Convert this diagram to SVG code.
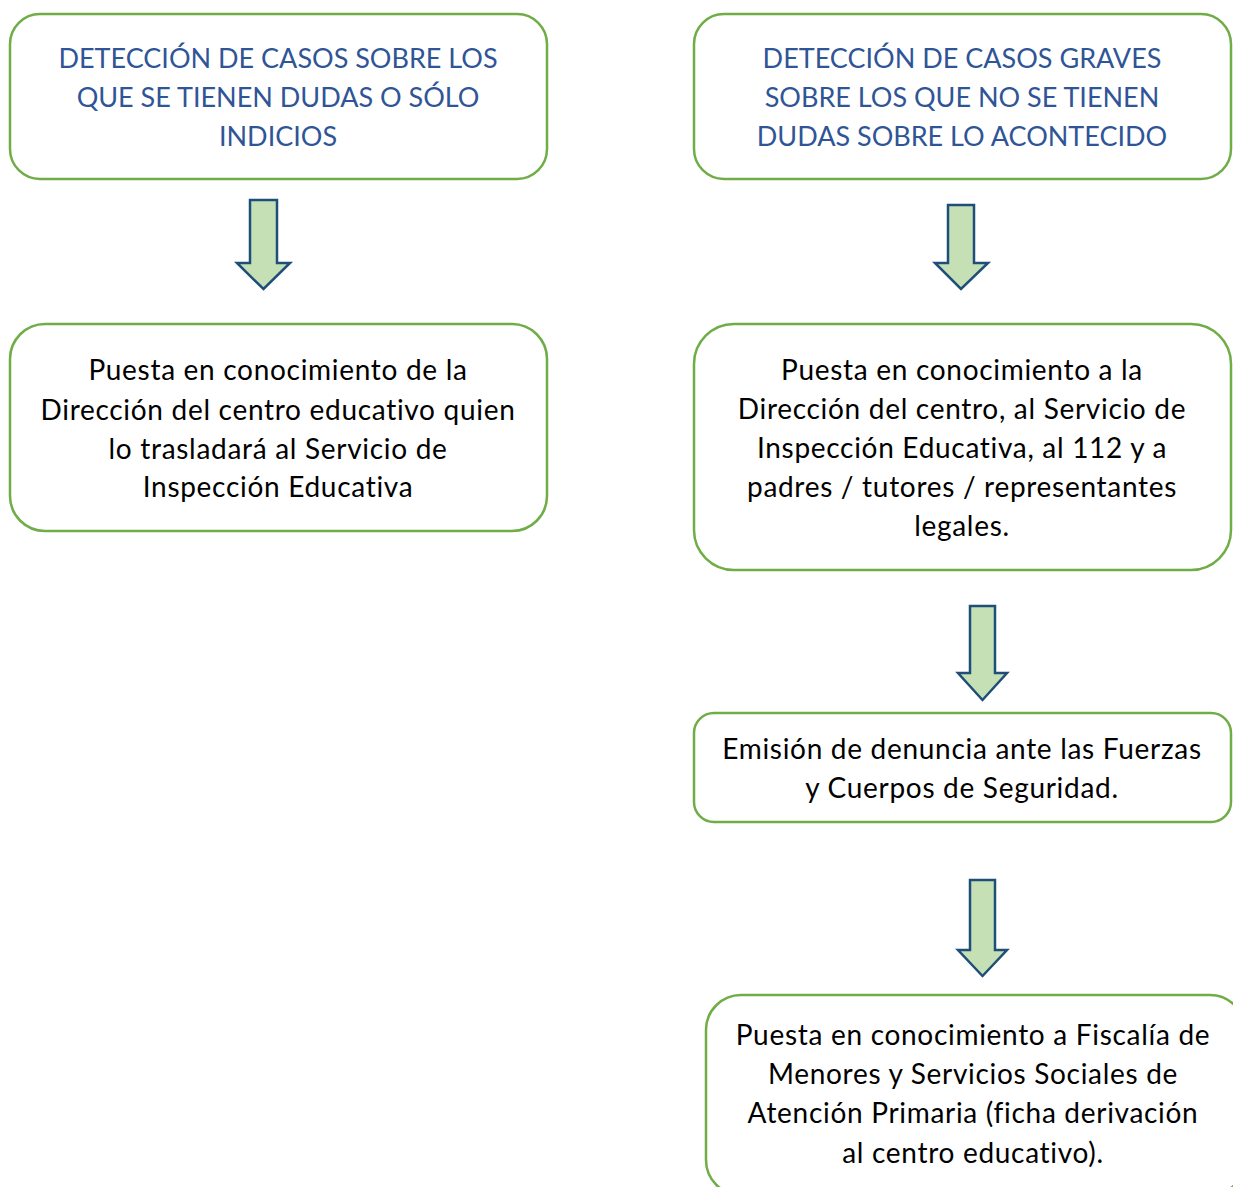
<svg xmlns="http://www.w3.org/2000/svg" width="1233" height="1187" viewBox="0 0 1233 1187">
<style>
.box{fill:#fff;stroke:#70AD47;stroke-width:2.5}
.arr{fill:#C5E0B4;stroke:#1F4E79;stroke-width:2.5;stroke-linejoin:miter}
text{font-family:Lato,"Open Sans",sans-serif;text-anchor:middle}
.h{fill:#2F5597;font-size:27px}
.b{fill:#000;font-size:28px;letter-spacing:0.7px}
</style>
<rect width="1233" height="1187" fill="#fff"/>
<g id="connectors">
<path class="arr" d="M250,200 H277 V263 H290 L263.5,289 L237,263 H250 Z"/>
<path class="arr" d="M948,205 H974 V263 H988 L961,289 L935,263 H948 Z"/>
<path class="arr" d="M970,606 H995 V673 H1007 L982.5,700 L958,673 H970 Z"/>
<path class="arr" d="M970,880 H995 V950 H1007 L982.5,976 L958,950 H970 Z"/>
</g>
<g id="n1">
<rect class="box" x="10" y="14" width="537" height="165" rx="30"/>
<text class="h" x="278" y="68">DETECCIÓN DE CASOS SOBRE LOS</text>
<text class="h" x="278" y="107">QUE SE TIENEN DUDAS O SÓLO</text>
<text class="h" x="278" y="146">INDICIOS</text>
</g>
<g id="n2">
<rect class="box" x="694" y="14" width="537" height="165" rx="30"/>
<text class="h" x="962" y="68">DETECCIÓN DE CASOS GRAVES</text>
<text class="h" x="962" y="107">SOBRE LOS QUE NO SE TIENEN</text>
<text class="h" x="962" y="146">DUDAS SOBRE LO ACONTECIDO</text>
</g>
<g id="n3">
<rect class="box" x="10" y="324" width="537" height="207" rx="35"/>
<text class="b" x="278" y="380">Puesta en conocimiento de la</text>
<text class="b" x="278" y="420">Dirección del centro educativo quien</text>
<text class="b" x="278" y="459">lo trasladará al Servicio de</text>
<text class="b" x="278" y="497">Inspección Educativa</text>
</g>
<g id="n4">
<rect class="box" x="694" y="324" width="537" height="246" rx="40"/>
<text class="b" x="962" y="380">Puesta en conocimiento a la</text>
<text class="b" x="962" y="419">Dirección del centro, al Servicio de</text>
<text class="b" x="962" y="458">Inspección Educativa, al 112 y a</text>
<text class="b" x="962" y="497">padres / tutores / representantes</text>
<text class="b" x="962" y="536">legales.</text>
</g>
<g id="n5">
<rect class="box" x="694" y="713" width="537" height="109" rx="20"/>
<text class="b" x="962" y="759">Emisión de denuncia ante las Fuerzas</text>
<text class="b" x="962" y="798">y Cuerpos de Seguridad.</text>
</g>
<g id="n6">
<rect class="box" x="706" y="995" width="539" height="200" rx="35"/>
<text class="b" x="973" y="1045">Puesta en conocimiento a Fiscalía de</text>
<text class="b" x="973" y="1084">Menores y Servicios Sociales de</text>
<text class="b" x="973" y="1123">Atención Primaria (ficha derivación</text>
<text class="b" x="973" y="1163">al centro educativo).</text>
</g>
</svg>
